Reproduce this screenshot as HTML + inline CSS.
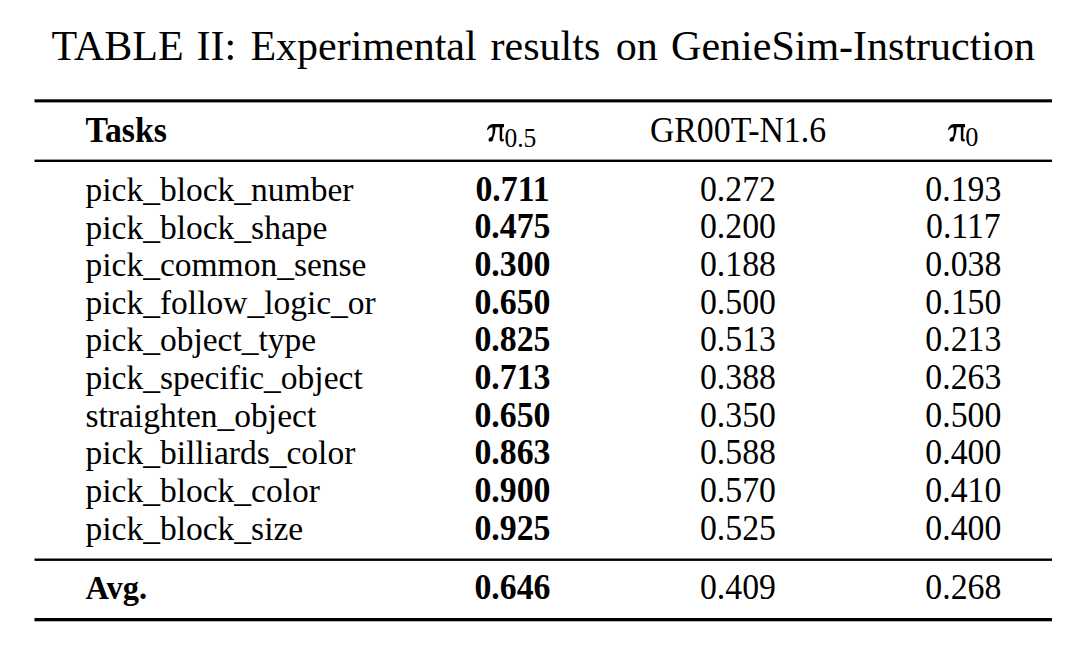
<!DOCTYPE html>
<html>
<head>
<meta charset="utf-8">
<style>
html,body{margin:0;padding:0;background:#fff;}
body{width:1080px;height:647px;position:relative;overflow:hidden;font-family:"Liberation Serif",serif;color:#000;}
.t{position:absolute;white-space:nowrap;line-height:1;}
.b{font-weight:bold;}
svg{position:absolute;left:0;top:0;}
#w{position:absolute;left:0;top:0;width:1080px;height:647px;background:#fff;}
</style>
</head>
<body><div id="w">
<div class="t " style="left:51.60px;top:24.82px;font-size:42.0px;transform:scaleY(1.0);transform-origin:0 35.18px">TABLE</div>
<div class="t " style="left:196.60px;top:24.82px;font-size:42.0px;transform:scaleY(1.0);transform-origin:0 35.18px">II:</div>
<div class="t " style="left:250.40px;top:24.82px;font-size:42.0px;transform:scaleY(1.0);transform-origin:0 35.18px">Experimental</div>
<div class="t " style="left:490.60px;top:24.82px;font-size:42.0px;transform:scaleY(1.0);transform-origin:0 35.18px">results</div>
<div class="t " style="left:615.80px;top:24.82px;font-size:42.0px;transform:scaleY(1.0);transform-origin:0 35.18px">on</div>
<div class="t " style="left:671.10px;top:24.82px;font-size:42.0px;transform:scaleY(1.0);transform-origin:0 35.18px">GenieSim-Instruction</div>
<svg width="1080" height="647" viewBox="0 0 1080 647">
<rect x="34.5" y="99.3" width="1017.5" height="3.1" fill="#000"/>
<rect x="34.5" y="159.6" width="1017.5" height="2.4" fill="#000"/>
<rect x="34.5" y="558.5" width="1017.5" height="2.4" fill="#000"/>
<rect x="34.5" y="618.0" width="1017.5" height="3.3" fill="#000"/>
</svg>
<div class="t b" style="left:85.50px;top:113.89px;font-size:33.8px;transform:scaleY(1.04);transform-origin:0 28.31px">Tasks</div>
<svg style="left:487.0px;top:124.3px" width="17.4" height="17.6" viewBox="0 0 100 100" preserveAspectRatio="none"><g fill="#000"><path d="M 0 32 C 5 15, 15 1, 35 0 L 100 0 L 100 18 L 37 18 C 23 18, 11 24, 4 35 Z"/><path d="M 31 16 L 49 16 C 48 45, 44 64, 36 79 C 37 93, 30 100, 20 100 C 11 100, 7 93, 9 86 C 12 78, 21 75, 28 71 C 33 58, 34 40, 31 16 Z"/><path d="M 73 16 L 88 16 L 87 76 C 87 85, 89 88, 92 88 C 95 88, 97 85, 98 78 L 100 79 C 99 93, 95 100, 86 100 C 78 100, 73 94, 73 84 Z"/></g></svg>
<svg style="left:947.8px;top:124.3px" width="17.6" height="17.6" viewBox="0 0 100 100" preserveAspectRatio="none"><g fill="#000"><path d="M 0 32 C 5 15, 15 1, 35 0 L 100 0 L 100 18 L 37 18 C 23 18, 11 24, 4 35 Z"/><path d="M 31 16 L 49 16 C 48 45, 44 64, 36 79 C 37 93, 30 100, 20 100 C 11 100, 7 93, 9 86 C 12 78, 21 75, 28 71 C 33 58, 34 40, 31 16 Z"/><path d="M 73 16 L 88 16 L 87 76 C 87 85, 89 88, 92 88 C 95 88, 97 85, 98 78 L 100 79 C 99 93, 95 100, 86 100 C 78 100, 73 94, 73 84 Z"/></g></svg>
<div class="t " style="left:504.40px;top:125.64px;font-size:25.5px;transform:scaleY(1.05);transform-origin:0 21.36px">0.5</div>
<div class="t " style="left:965.20px;top:124.97px;font-size:26.3px;transform:scaleY(1.04);transform-origin:0 22.03px">0</div>
<div class="t " style="left:588.00px;width:300px;text-align:center;top:113.89px;font-size:33.8px;transform:scaleY(1.04);transform-origin:0 28.31px">GR00T-N1.6</div>
<div class="t " style="left:85.50px;top:172.84px;font-size:33.5px;transform:scaleY(1.0);transform-origin:0 28.06px">pick_block_number</div>
<div class="t b" style="left:362.50px;width:300px;text-align:center;top:172.59px;font-size:33.8px;transform:scaleY(1.04);transform-origin:0 28.31px">0.711</div>
<div class="t " style="left:588.00px;width:300px;text-align:center;top:172.59px;font-size:33.8px;transform:scaleY(1.04);transform-origin:0 28.31px">0.272</div>
<div class="t " style="left:813.40px;width:300px;text-align:center;top:172.59px;font-size:33.8px;transform:scaleY(1.04);transform-origin:0 28.31px">0.193</div>
<div class="t " style="left:85.50px;top:210.50px;font-size:33.5px;transform:scaleY(1.0);transform-origin:0 28.06px">pick_block_shape</div>
<div class="t b" style="left:362.50px;width:300px;text-align:center;top:210.25px;font-size:33.8px;transform:scaleY(1.04);transform-origin:0 28.31px">0.475</div>
<div class="t " style="left:588.00px;width:300px;text-align:center;top:210.25px;font-size:33.8px;transform:scaleY(1.04);transform-origin:0 28.31px">0.200</div>
<div class="t " style="left:813.40px;width:300px;text-align:center;top:210.25px;font-size:33.8px;transform:scaleY(1.04);transform-origin:0 28.31px">0.117</div>
<div class="t " style="left:85.50px;top:248.16px;font-size:33.5px;transform:scaleY(1.0);transform-origin:0 28.06px">pick_common_sense</div>
<div class="t b" style="left:362.50px;width:300px;text-align:center;top:247.91px;font-size:33.8px;transform:scaleY(1.04);transform-origin:0 28.31px">0.300</div>
<div class="t " style="left:588.00px;width:300px;text-align:center;top:247.91px;font-size:33.8px;transform:scaleY(1.04);transform-origin:0 28.31px">0.188</div>
<div class="t " style="left:813.40px;width:300px;text-align:center;top:247.91px;font-size:33.8px;transform:scaleY(1.04);transform-origin:0 28.31px">0.038</div>
<div class="t " style="left:85.50px;top:285.82px;font-size:33.5px;transform:scaleY(1.0);transform-origin:0 28.06px">pick_follow_logic_or</div>
<div class="t b" style="left:362.50px;width:300px;text-align:center;top:285.57px;font-size:33.8px;transform:scaleY(1.04);transform-origin:0 28.31px">0.650</div>
<div class="t " style="left:588.00px;width:300px;text-align:center;top:285.57px;font-size:33.8px;transform:scaleY(1.04);transform-origin:0 28.31px">0.500</div>
<div class="t " style="left:813.40px;width:300px;text-align:center;top:285.57px;font-size:33.8px;transform:scaleY(1.04);transform-origin:0 28.31px">0.150</div>
<div class="t " style="left:85.50px;top:323.48px;font-size:33.5px;transform:scaleY(1.0);transform-origin:0 28.06px">pick_object_type</div>
<div class="t b" style="left:362.50px;width:300px;text-align:center;top:323.23px;font-size:33.8px;transform:scaleY(1.04);transform-origin:0 28.31px">0.825</div>
<div class="t " style="left:588.00px;width:300px;text-align:center;top:323.23px;font-size:33.8px;transform:scaleY(1.04);transform-origin:0 28.31px">0.513</div>
<div class="t " style="left:813.40px;width:300px;text-align:center;top:323.23px;font-size:33.8px;transform:scaleY(1.04);transform-origin:0 28.31px">0.213</div>
<div class="t " style="left:85.50px;top:361.14px;font-size:33.5px;transform:scaleY(1.0);transform-origin:0 28.06px">pick_specific_object</div>
<div class="t b" style="left:362.50px;width:300px;text-align:center;top:360.89px;font-size:33.8px;transform:scaleY(1.04);transform-origin:0 28.31px">0.713</div>
<div class="t " style="left:588.00px;width:300px;text-align:center;top:360.89px;font-size:33.8px;transform:scaleY(1.04);transform-origin:0 28.31px">0.388</div>
<div class="t " style="left:813.40px;width:300px;text-align:center;top:360.89px;font-size:33.8px;transform:scaleY(1.04);transform-origin:0 28.31px">0.263</div>
<div class="t " style="left:85.50px;top:398.80px;font-size:33.5px;transform:scaleY(1.0);transform-origin:0 28.06px">straighten_object</div>
<div class="t b" style="left:362.50px;width:300px;text-align:center;top:398.55px;font-size:33.8px;transform:scaleY(1.04);transform-origin:0 28.31px">0.650</div>
<div class="t " style="left:588.00px;width:300px;text-align:center;top:398.55px;font-size:33.8px;transform:scaleY(1.04);transform-origin:0 28.31px">0.350</div>
<div class="t " style="left:813.40px;width:300px;text-align:center;top:398.55px;font-size:33.8px;transform:scaleY(1.04);transform-origin:0 28.31px">0.500</div>
<div class="t " style="left:85.50px;top:436.46px;font-size:33.5px;transform:scaleY(1.0);transform-origin:0 28.06px">pick_billiards_color</div>
<div class="t b" style="left:362.50px;width:300px;text-align:center;top:436.21px;font-size:33.8px;transform:scaleY(1.04);transform-origin:0 28.31px">0.863</div>
<div class="t " style="left:588.00px;width:300px;text-align:center;top:436.21px;font-size:33.8px;transform:scaleY(1.04);transform-origin:0 28.31px">0.588</div>
<div class="t " style="left:813.40px;width:300px;text-align:center;top:436.21px;font-size:33.8px;transform:scaleY(1.04);transform-origin:0 28.31px">0.400</div>
<div class="t " style="left:85.50px;top:474.12px;font-size:33.5px;transform:scaleY(1.0);transform-origin:0 28.06px">pick_block_color</div>
<div class="t b" style="left:362.50px;width:300px;text-align:center;top:473.87px;font-size:33.8px;transform:scaleY(1.04);transform-origin:0 28.31px">0.900</div>
<div class="t " style="left:588.00px;width:300px;text-align:center;top:473.87px;font-size:33.8px;transform:scaleY(1.04);transform-origin:0 28.31px">0.570</div>
<div class="t " style="left:813.40px;width:300px;text-align:center;top:473.87px;font-size:33.8px;transform:scaleY(1.04);transform-origin:0 28.31px">0.410</div>
<div class="t " style="left:85.50px;top:511.78px;font-size:33.5px;transform:scaleY(1.0);transform-origin:0 28.06px">pick_block_size</div>
<div class="t b" style="left:362.50px;width:300px;text-align:center;top:511.53px;font-size:33.8px;transform:scaleY(1.04);transform-origin:0 28.31px">0.925</div>
<div class="t " style="left:588.00px;width:300px;text-align:center;top:511.53px;font-size:33.8px;transform:scaleY(1.04);transform-origin:0 28.31px">0.525</div>
<div class="t " style="left:813.40px;width:300px;text-align:center;top:511.53px;font-size:33.8px;transform:scaleY(1.04);transform-origin:0 28.31px">0.400</div>
<div class="t b" style="left:85.50px;top:571.98px;font-size:32.5px;transform:scaleY(1.05);transform-origin:0 27.22px">Avg.</div>
<div class="t b" style="left:362.50px;width:300px;text-align:center;top:570.89px;font-size:33.8px;transform:scaleY(1.04);transform-origin:0 28.31px">0.646</div>
<div class="t " style="left:588.00px;width:300px;text-align:center;top:570.89px;font-size:33.8px;transform:scaleY(1.04);transform-origin:0 28.31px">0.409</div>
<div class="t " style="left:813.40px;width:300px;text-align:center;top:570.89px;font-size:33.8px;transform:scaleY(1.04);transform-origin:0 28.31px">0.268</div>
</div></body>
</html>
